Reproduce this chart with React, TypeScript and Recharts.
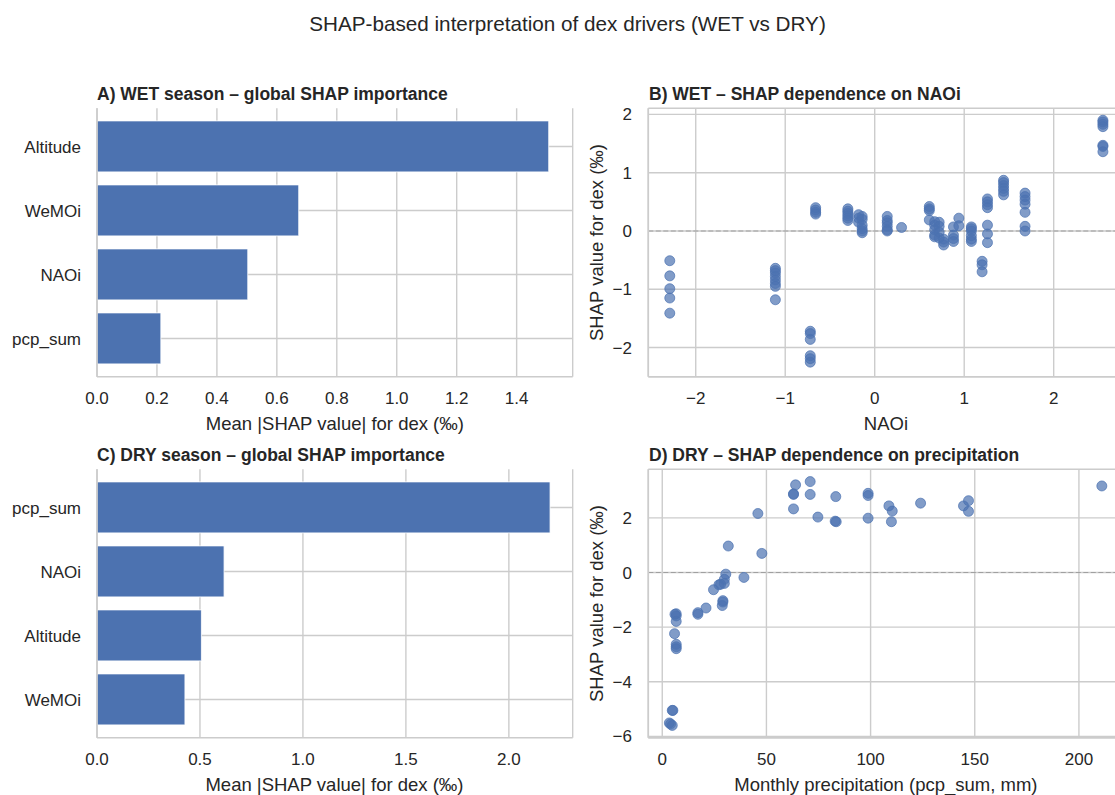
import React from 'react';
import {
  BarChart,
  Bar,
  XAxis,
  YAxis,
  CartesianGrid,
  ScatterChart,
  Scatter,
  ReferenceLine,
} from 'recharts';

// ---------- data ----------
const wetFeatures = ['Altitude', 'WeMOi', 'NAOi', 'pcp_sum'];
const wetImportance = [1.507, 0.673, 0.503, 0.213];

const dryFeatures = ['pcp_sum', 'NAOi', 'Altitude', 'WeMOi'];
const dryImportance = [2.2, 0.617, 0.507, 0.427];

const wetImpTicks = [0, 0.2, 0.4, 0.6, 0.8, 1.0, 1.2, 1.4];
const dryImpTicks = [0, 0.5, 1.0, 1.5, 2.0];
const naoiTicks = [-2, -1, 0, 1, 2];
const wetShapTicks = [-2, -1, 0, 1, 2];
const pcpTicks = [0, 50, 100, 150, 200];
const dryShapTicks = [-6, -4, -2, 0, 2];

const wetNaoi = [
  -2.29, -2.29, -2.29, -2.29, -2.29,
  -1.11, -1.11, -1.11, -1.11, -1.11, -1.11, -1.11, -1.11,
  -0.72, -0.72, -0.72, -0.72, -0.72, -0.72,
  -0.66, -0.66, -0.66, -0.66,
  -0.30, -0.30, -0.30, -0.30, -0.30, -0.30,
  -0.18, -0.18, -0.18,
  -0.14, -0.14, -0.14, -0.14, -0.14, -0.14,
  0.14, 0.14, 0.14, 0.14, 0.14, 0.14,
  0.30,
  0.61, 0.61, 0.61, 0.61,
  0.67, 0.67, 0.67, 0.67, 0.67,
  0.72, 0.72, 0.72, 0.72,
  0.77, 0.77, 0.77,
  0.88, 0.88, 0.88, 0.88,
  0.94, 0.94,
  1.08, 1.08, 1.08, 1.08, 1.08, 1.08,
  1.20, 1.20, 1.20,
  1.26, 1.26, 1.26, 1.26, 1.26, 1.26, 1.26,
  1.44, 1.44, 1.44, 1.44, 1.44, 1.44,
  1.68, 1.68, 1.68, 1.68, 1.68, 1.68, 1.68,
  2.55, 2.55, 2.55, 2.55, 2.55, 2.55, 2.55,
];
const wetShap = [
  -0.51, -0.77, -0.99, -1.15, -1.41,
  -0.64, -0.68, -0.72, -0.78, -0.84, -0.90, -0.95, -1.18,
  -1.72, -1.76, -1.86, -2.14, -2.19, -2.25,
  0.40, 0.36, 0.32, 0.29,
  0.38, 0.34, 0.30, 0.26, 0.22, 0.18,
  0.28, 0.22, 0.15,
  0.25, 0.20, 0.10, 0.04, 0.0, -0.03,
  0.25, 0.18, 0.14, 0.08, 0.02, 0.0,
  0.06,
  0.42, 0.38, 0.35, 0.19,
  0.16, 0.10, 0.02, -0.07, -0.10,
  0.15, 0.08, -0.02, -0.12,
  -0.14, -0.19, -0.24,
  0.07, -0.07, -0.13, -0.18,
  0.22, 0.09,
  0.07, 0.04, 0.0, -0.08, -0.14, -0.18,
  -0.52, -0.58, -0.70,
  0.55, 0.50, 0.45, 0.40, 0.10, -0.05, -0.20,
  0.87, 0.83, 0.78, 0.73, 0.68, 0.62,
  0.65, 0.59, 0.53, 0.46, 0.32, 0.08, 0.0,
  1.90, 1.87, 1.83, 1.79, 1.47, 1.45, 1.36,
];

const dryPcp = [
  211, 64, 71, 63, 63, 71, 83.3, 98.8, 98.8, 63, 45.9, 74.7, 83, 83.5, 98.8,
  108.8, 110.4, 110, 124, 144.6, 147, 147, 31.7, 47.8, 30.5, 29.8, 29.8, 27.2,
  28, 24.6, 39.2, 29.1, 29.1, 28.8, 21, 17.1, 17.1, 6.1, 6.7, 6.7, 6.7, 5.9,
  6.7, 6.7, 6.7, 4.8, 5.1, 3.4, 4.0, 4.8,
];
const dryShap = [
  3.17, 3.21, 3.33, 2.88, 2.86, 2.86, 2.78, 2.90, 2.82, 2.33, 2.16, 2.03, 1.88, 1.86, 1.99,
  2.44, 2.25, 1.86, 2.54, 2.44, 2.63, 2.24, 0.97, 0.70, -0.06, -0.25, -0.40, -0.45,
  -0.43, -0.63, -0.18, -1.03, -1.08, -1.21, -1.30, -1.47, -1.53, -1.53, -1.51, -1.59, -1.79, -2.24,
  -2.63, -2.72, -2.79, -5.05, -5.05, -5.51, -5.55, -5.60,
];

// ---------- derived tables ----------
const wetBars = wetFeatures.map((name, i) => ({ name, value: wetImportance[i] }));
const dryBars = dryFeatures.map((name, i) => ({ name, value: dryImportance[i] }));
const wetPoints = wetNaoi.map((x, i) => ({ x, y: wetShap[i] }));
const dryPoints = dryPcp.map((x, i) => ({ x, y: dryShap[i] }));

// ---------- style ----------
const FONT = '"Liberation Sans", Arial, Helvetica, sans-serif';
const TXT = '#262626';
const BLUE = '#4C72B0';
const GRID = '#cccccc';
const tickStyle = { fill: TXT, fontSize: 17, fontFamily: FONT };
const axisLineStyle = { stroke: GRID, strokeWidth: 1.6 };
const fmtMinus = (v: number) => (v < 0 ? '\u2212' + Math.abs(v) : String(v));

const PAD = 6.2;
const bandCenters = (n: number) => (props: any) => {
  const off = props.offset;
  const bw = (off.height - 2 * PAD) / n;
  return Array.from({ length: n }, (_, i) => off.top + PAD + bw * (i + 0.5));
};

const Dot = (p: any) => (
  <circle
    cx={p.cx}
    cy={p.cy}
    r={5}
    fill={BLUE}
    fillOpacity={0.7}
    stroke={BLUE}
    strokeOpacity={0.7}
    strokeWidth={1}
  />
);

const BAR_MARGIN = { top: 28.3, right: 27.3, bottom: 0, left: 0 };
const SC_MARGIN = { top: 28.3, right: 16.5, bottom: 0, left: 0 };

function ImportanceChart({ data, max, ticks }: { data: any[]; max: number; ticks: number[] }) {
  return (
    <BarChart
      width={600}
      height={370}
      data={data}
      layout="vertical"
      margin={BAR_MARGIN}
      barCategoryGap="10%"
    >
      <CartesianGrid
        stroke={GRID}
        strokeWidth={1.4}
        horizontalCoordinatesGenerator={bandCenters(data.length)}
      />
      <XAxis
        type="number"
        domain={[0, max]}
        ticks={ticks}
        interval={0}
        allowDataOverflow
        tickFormatter={(v: number) => v.toFixed(1)}
        tick={tickStyle}
        tickLine={false}
        tickSize={0}
        tickMargin={15.7}
        axisLine={axisLineStyle}
        height={73.3}
      />
      <YAxis
        type="category"
        dataKey="name"
        width={97}
        interval={0}
        tick={tickStyle}
        tickLine={false}
        tickSize={0}
        tickMargin={16}
        axisLine={axisLineStyle}
        padding={{ top: PAD, bottom: PAD }}
      />
      <Bar dataKey="value" fill={BLUE} stroke="#ffffff" strokeWidth={0.8} isAnimationActive={false} />
    </BarChart>
  );
}

function DependenceChart({
  data,
  xDomain,
  yDomain,
  xTicks,
  yTicks,
}: {
  data: any[];
  xDomain: number[];
  yDomain: number[];
  xTicks: number[];
  yTicks: number[];
}) {
  return (
    <ScatterChart width={560} height={370} margin={SC_MARGIN}>
      <CartesianGrid stroke={GRID} strokeWidth={1.4} />
      <XAxis
        type="number"
        dataKey="x"
        domain={xDomain}
        ticks={xTicks}
        interval={0}
        allowDataOverflow
        tickFormatter={fmtMinus}
        tick={tickStyle}
        tickLine={false}
        tickSize={0}
        tickMargin={15.7}
        axisLine={axisLineStyle}
        height={73.3}
      />
      <YAxis
        type="number"
        dataKey="y"
        domain={yDomain}
        ticks={yTicks}
        interval={0}
        allowDataOverflow
        tickFormatter={fmtMinus}
        tick={tickStyle}
        tickLine={false}
        tickSize={0}
        tickMargin={16.3}
        axisLine={axisLineStyle}
        width={68.3}
      />
      <ReferenceLine y={0} stroke="#a0a0a0" strokeWidth={1.1} strokeDasharray="5 2.5" />
      <Scatter data={data} shape={Dot} isAnimationActive={false} />
    </ScatterChart>
  );
}

export default function App() {
  const titleStyle = { fontFamily: FONT, fontSize: 17.5, fontWeight: 700, fill: TXT } as any;
  const labelStyle = { fontFamily: FONT, fontSize: 18.5, fill: TXT } as any;
  return (
    <div
      style={{
        position: 'absolute',
        left: 0,
        top: 0,
        width: 1115,
        height: 795,
        overflow: 'hidden',
        background: '#ffffff',
        fontFamily: FONT,
      }}
    >
      <div style={{ position: 'absolute', left: 0, top: 80 }}>
        <ImportanceChart data={wetBars} max={1.587} ticks={wetImpTicks} />
      </div>
      <div style={{ position: 'absolute', left: 580, top: 80 }}>
        <DependenceChart
          data={wetPoints}
          xDomain={[-2.53, 2.78]}
          yDomain={[-2.5, 2.105]}
          xTicks={naoiTicks}
          yTicks={wetShapTicks}
        />
      </div>
      <div style={{ position: 'absolute', left: 0, top: 441 }}>
        <ImportanceChart data={dryBars} max={2.31} ticks={dryImpTicks} />
      </div>
      <div style={{ position: 'absolute', left: 580, top: 441 }}>
        <DependenceChart
          data={dryPoints}
          xDomain={[-6.7, 221.4]}
          yDomain={[-6.05, 3.78]}
          xTicks={pcpTicks}
          yTicks={dryShapTicks}
        />
      </div>
      <svg
        width={1115}
        height={795}
        style={{ position: 'absolute', left: 0, top: 0, pointerEvents: 'none' }}
      >
        <text x={567.5} y={31} textAnchor="middle" style={{ fontFamily: FONT, fontSize: 20.7, fill: TXT }}>
          SHAP-based interpretation of dex drivers (WET vs DRY)
        </text>
        <text x={97} y={100} style={titleStyle}>A) WET season – global SHAP importance</text>
        <text x={649} y={100} style={titleStyle}>B) WET – SHAP dependence on NAOi</text>
        <text x={97} y={461} style={titleStyle}>C) DRY season – global SHAP importance</text>
        <text x={649} y={461} style={titleStyle}>D) DRY – SHAP dependence on precipitation</text>

        <text x={334.9} y={429.5} textAnchor="middle" style={labelStyle}>Mean |SHAP value| for dex (‰)</text>
        <text x={334.5} y={790.5} textAnchor="middle" style={labelStyle}>Mean |SHAP value| for dex (‰)</text>
        <text x={885.9} y={429.5} textAnchor="middle" style={labelStyle}>NAOi</text>
        <text x={885.9} y={790.5} textAnchor="middle" style={labelStyle}>Monthly precipitation (pcp_sum, mm)</text>

        <text x={603} y={242.5} textAnchor="middle" transform="rotate(-90 603 242.5)" style={labelStyle}>
          SHAP value for dex (‰)
        </text>
        <text x={603} y={603.5} textAnchor="middle" transform="rotate(-90 603 603.5)" style={labelStyle}>
          SHAP value for dex (‰)
        </text>
      </svg>
    </div>
  );
}
